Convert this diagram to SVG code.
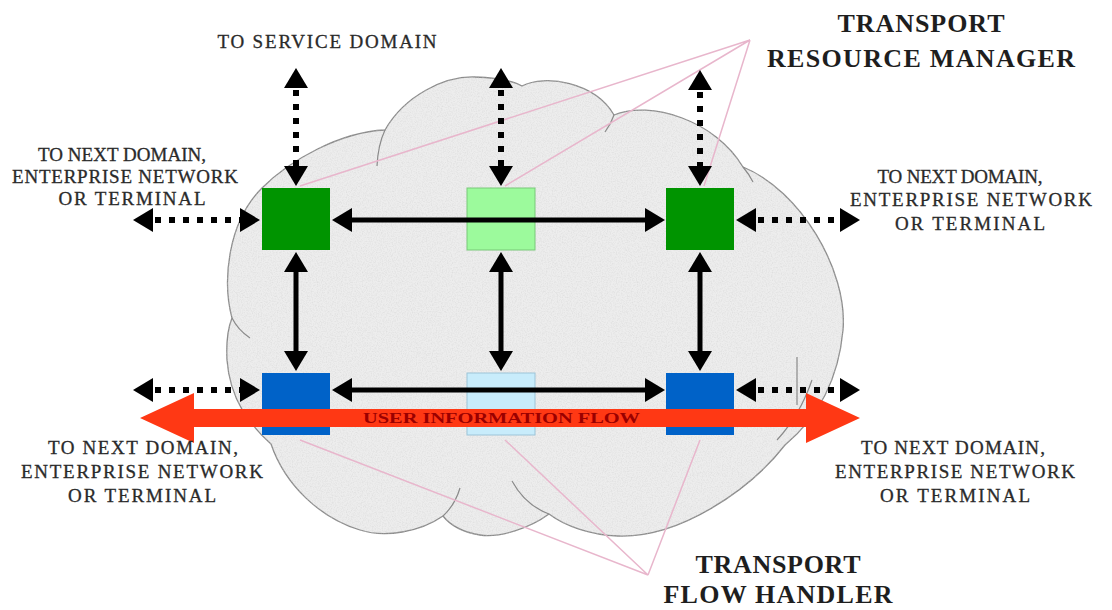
<svg xmlns="http://www.w3.org/2000/svg" width="1112" height="610" viewBox="0 0 1112 610">
<style>
.lbl{font-family:"Liberation Serif","Times New Roman",serif;font-size:19px;fill:#2a2a2a;stroke:#2a2a2a;stroke-width:0.3;text-anchor:middle}
.ttl{font-family:"Liberation Serif","Times New Roman",serif;font-size:26px;font-weight:bold;fill:#1e1e1e;text-anchor:middle}
.solid{stroke:#000;stroke-width:5;fill:none;marker-start:url(#ah);marker-end:url(#ah)}
.dot{stroke:#000;stroke-width:6;fill:none;stroke-dasharray:6 8;marker-start:url(#ah);marker-end:url(#ah)}
.pink{stroke:#e8b6cc;stroke-width:1.5;fill:none}
.inner{stroke:#8a8a8a;stroke-width:1.2;fill:none}
</style>
<defs>
<marker id="ah" viewBox="0 0 20 24" refX="12" refY="12" markerWidth="20" markerHeight="24" markerUnits="userSpaceOnUse" orient="auto-start-reverse">
<path d="M0,0 L20,12 L0,24 Z" fill="#000"/>
</marker>
<filter id="noise" x="0" y="0" width="100%" height="100%">
<feTurbulence type="fractalNoise" baseFrequency="0.8" numOctaves="2" seed="3" result="n"/>
<feColorMatrix in="n" type="matrix" values="0 0 0 0 0.6  0 0 0 0 0.6  0 0 0 0 0.6  0.9 0 0 0 -0.36" result="g"/>
<feComposite in="g" in2="SourceGraphic" operator="in" result="gc"/>
<feMerge><feMergeNode in="SourceGraphic"/><feMergeNode in="gc"/></feMerge>
</filter>
</defs>
<rect width="1112" height="610" fill="#fff"/>

<g id="cloud">
<path filter="url(#noise)" d="M232,318 C222,280 228,222 262,188 C290,160 340,132 385,130 C405,95 445,76 475,77 C500,78 515,82 522,86 C545,74 595,82 614,115 C650,100 715,120 743,167 C800,190 848,270 843,330 C838,385 815,420 785,445 C750,490 680,538 618,536 C590,535 565,526 549,514 C530,528 500,538 480,535 C462,532 450,525 443,516 C420,532 385,538 360,530 C320,518 285,485 271,444 C250,425 230,400 227,360 C226,340 228,328 232,318 Z" fill="#ededed" stroke="#8a8a8a" stroke-width="1.3"/>
<path class="inner" d="M443,516 Q455,505 460,488"/>
<path class="inner" d="M512,481 Q525,505 549,514"/>
<path class="inner" d="M232,318 Q238,330 250,338"/>
<path class="inner" d="M385,130 Q378,145 377,166"/>
<path class="inner" d="M614,115 Q611,124 605,132"/>
<path class="inner" d="M743,167 Q749,174 753,182"/>
<path class="inner" d="M812,380 Q800,415 777,440"/>
</g>

<g id="pointers">
<path class="pink" d="M750,40 L300,186 M750,40 L505,186 M750,40 L704,186"/>
<path class="pink" d="M648,575 L300,440 M648,575 L505,440 M648,575 L700,440"/>
<line x1="797" y1="357" x2="797" y2="405" stroke="#777" stroke-width="1"/>
</g>

<g id="trm-left"><rect x="262" y="188" width="68" height="62" fill="#009400"/></g>
<g id="trm-mid"><rect x="467" y="188" width="68" height="62" fill="#9cfa9c" stroke="#78c878" stroke-width="1"/></g>
<g id="trm-right"><rect x="666" y="188" width="68" height="62" fill="#009400"/></g>
<g id="tfh-left"><rect x="262" y="373" width="68" height="62" fill="#0062c8"/></g>
<g id="tfh-mid"><rect x="467" y="373" width="68" height="62" fill="#c8ecfb" stroke="#9cc4d8" stroke-width="1"/></g>
<g id="tfh-right"><rect x="666" y="373" width="68" height="62" fill="#0062c8"/></g>

<g id="connectors">
<line class="dot" x1="296" y1="76" x2="296" y2="178"/>
<line class="dot" x1="501" y1="76" x2="501" y2="178"/>
<line class="dot" x1="700" y1="78" x2="700" y2="178"/>
<line class="dot" x1="141" y1="220" x2="252" y2="220"/>
<line class="dot" x1="744" y1="220" x2="852" y2="220"/>
<line class="dot" x1="141" y1="390" x2="252" y2="390"/>
<line class="dot" x1="744" y1="390" x2="852" y2="390"/>
<line class="solid" x1="340" y1="220" x2="657" y2="220"/>
<line class="solid" x1="340" y1="390" x2="657" y2="390"/>
<line class="solid" x1="296" y1="260" x2="296" y2="363"/>
<line class="solid" x1="501" y1="260" x2="501" y2="363"/>
<line class="solid" x1="700" y1="260" x2="700" y2="363"/>
</g>

<g id="user-flow">
<polygon points="140,418 194,393 194,409 806,409 806,393 860,418 806,443 806,427 194,427 194,443" fill="#ff3814"/>
<text x="363" y="423" textLength="277" lengthAdjust="spacingAndGlyphs" style="font-family:'Liberation Serif','Times New Roman',serif;font-size:15px;font-weight:bold;fill:#9a0000">USER INFORMATION FLOW</text>
</g>

<g id="label-service">
<text class="lbl" x="327" y="48" textLength="219">TO SERVICE DOMAIN</text>
</g>
<g id="label-trm">
<text class="ttl" x="921" y="32" textLength="167">TRANSPORT</text>
<text class="ttl" x="921" y="67" textLength="308">RESOURCE MANAGER</text>
</g>
<g id="label-tfh">
<text class="ttl" x="778" y="573" textLength="165">TRANSPORT</text>
<text class="ttl" x="778" y="603" textLength="229">FLOW HANDLER</text>
</g>
<g id="label-top-left">
<text class="lbl" x="122" y="161" textLength="168">TO NEXT DOMAIN,</text>
<text class="lbl" x="125" y="183" textLength="226">ENTERPRISE NETWORK</text>
<text class="lbl" x="132" y="205" textLength="147">OR TERMINAL</text>
</g>
<g id="label-top-right">
<text class="lbl" x="960" y="183" textLength="165">TO NEXT DOMAIN,</text>
<text class="lbl" x="971" y="206" textLength="242">ENTERPRISE NETWORK</text>
<text class="lbl" x="970" y="230" textLength="150">OR TERMINAL</text>
</g>
<g id="label-bottom-left">
<text class="lbl" x="143" y="454" textLength="190">TO NEXT DOMAIN,</text>
<text class="lbl" x="142" y="478" textLength="242">ENTERPRISE NETWORK</text>
<text class="lbl" x="142" y="502" textLength="148">OR TERMINAL</text>
</g>
<g id="label-bottom-right">
<text class="lbl" x="953" y="454" textLength="184">TO NEXT DOMAIN,</text>
<text class="lbl" x="955" y="478" textLength="240">ENTERPRISE NETWORK</text>
<text class="lbl" x="955" y="502" textLength="150">OR TERMINAL</text>
</g>
</svg>
